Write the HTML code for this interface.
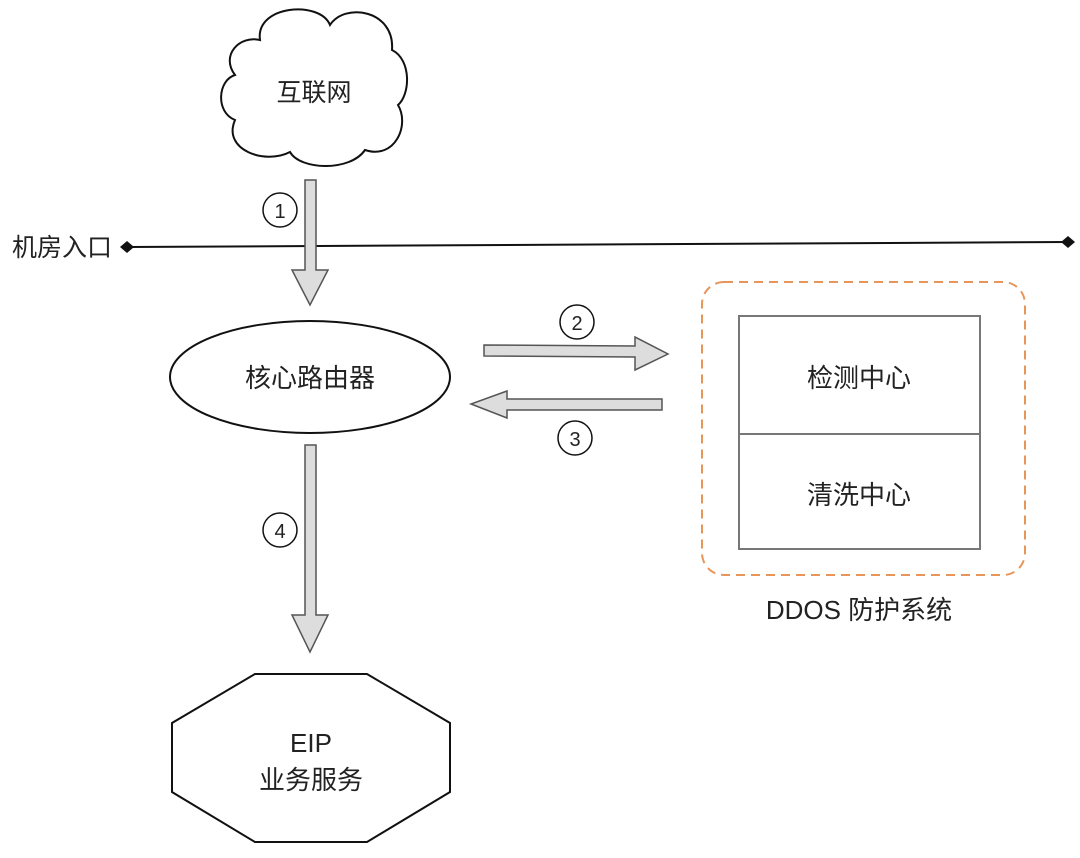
<!DOCTYPE html>
<html><head><meta charset="utf-8"><style>
html,body{margin:0;padding:0;background:#fff}
svg text{font-family:"Liberation Sans","Noto Sans CJK SC",sans-serif;fill:#222}
</style></head><body>
<svg width="1080" height="853" viewBox="0 0 1080 853" xmlns="http://www.w3.org/2000/svg">
<path d="M260,40 C255,5 320,0 330,25 C345,2 395,10 392,50 C412,60 410,95 398,105 C410,125 395,160 365,150 C350,172 300,170 290,152 C265,165 222,150 235,120 C215,112 218,80 235,75 C220,55 240,35 260,40 Z" fill="#fff" stroke="#111" stroke-width="2"/>
<text x="314" y="101" font-size="25" text-anchor="middle">互联网</text>
<line x1="127" y1="247" x2="1068" y2="242" stroke="#111" stroke-width="2"/>
<polygon points="120,247 127,241 134,247 127,253" fill="#111"/>
<polygon points="1061,242 1068,236 1075,242 1068,248" fill="#111"/>
<text x="12" y="256" font-size="25">机房入口</text>
<polygon points="305,180 316,180 316,270 328,270 310,305 292,270 305,270" fill="#ddd" stroke="#555" stroke-width="1.5"/>
<circle cx="280" cy="210" r="17" fill="#fff" stroke="#111" stroke-width="1.5"/>
<text x="280" y="218" font-size="20" text-anchor="middle">1</text>
<ellipse cx="310" cy="377" rx="140" ry="56" fill="#fff" stroke="#111" stroke-width="2"/>
<text x="310" y="387" font-size="26" text-anchor="middle">核心路由器</text>
<polygon points="484,345 635,346 635,337 668,354 635,370 635,357 484,356" fill="#ddd" stroke="#555" stroke-width="1.5"/>
<circle cx="577" cy="322" r="17" fill="#fff" stroke="#111" stroke-width="1.5"/>
<text x="577" y="330" font-size="20" text-anchor="middle">2</text>
<polygon points="662,399 507,399 507,391 471,404 507,418 507,410 662,410" fill="#ddd" stroke="#555" stroke-width="1.5"/>
<circle cx="575" cy="438" r="17" fill="#fff" stroke="#111" stroke-width="1.5"/>
<text x="575" y="446" font-size="20" text-anchor="middle">3</text>
<polygon points="305,445 316,445 316,615 328,615 310,652 292,615 305,615" fill="#ddd" stroke="#555" stroke-width="1.5"/>
<circle cx="280" cy="530" r="17" fill="#fff" stroke="#111" stroke-width="1.5"/>
<text x="280" y="538" font-size="20" text-anchor="middle">4</text>
<rect x="702" y="282" width="323" height="293" rx="22" fill="none" stroke="#e8955a" stroke-width="2" stroke-dasharray="9,6"/>
<rect x="739" y="316" width="241" height="233" fill="#fff" stroke="#777" stroke-width="2"/>
<line x1="739" y1="434" x2="980" y2="434" stroke="#777" stroke-width="2"/>
<text x="859" y="387" font-size="26" text-anchor="middle">检测中心</text>
<text x="859" y="504" font-size="26" text-anchor="middle">清洗中心</text>
<text x="859" y="619" font-size="26" text-anchor="middle">DDOS 防护系统</text>
<polygon points="255,674 367,674 450,723 450,792 367,842 255,842 172,792 172,723" fill="#fff" stroke="#111" stroke-width="2"/>
<text x="311" y="752" font-size="26" text-anchor="middle">EIP</text>
<text x="311" y="789" font-size="26" text-anchor="middle">业务服务</text>
</svg>
</body></html>
